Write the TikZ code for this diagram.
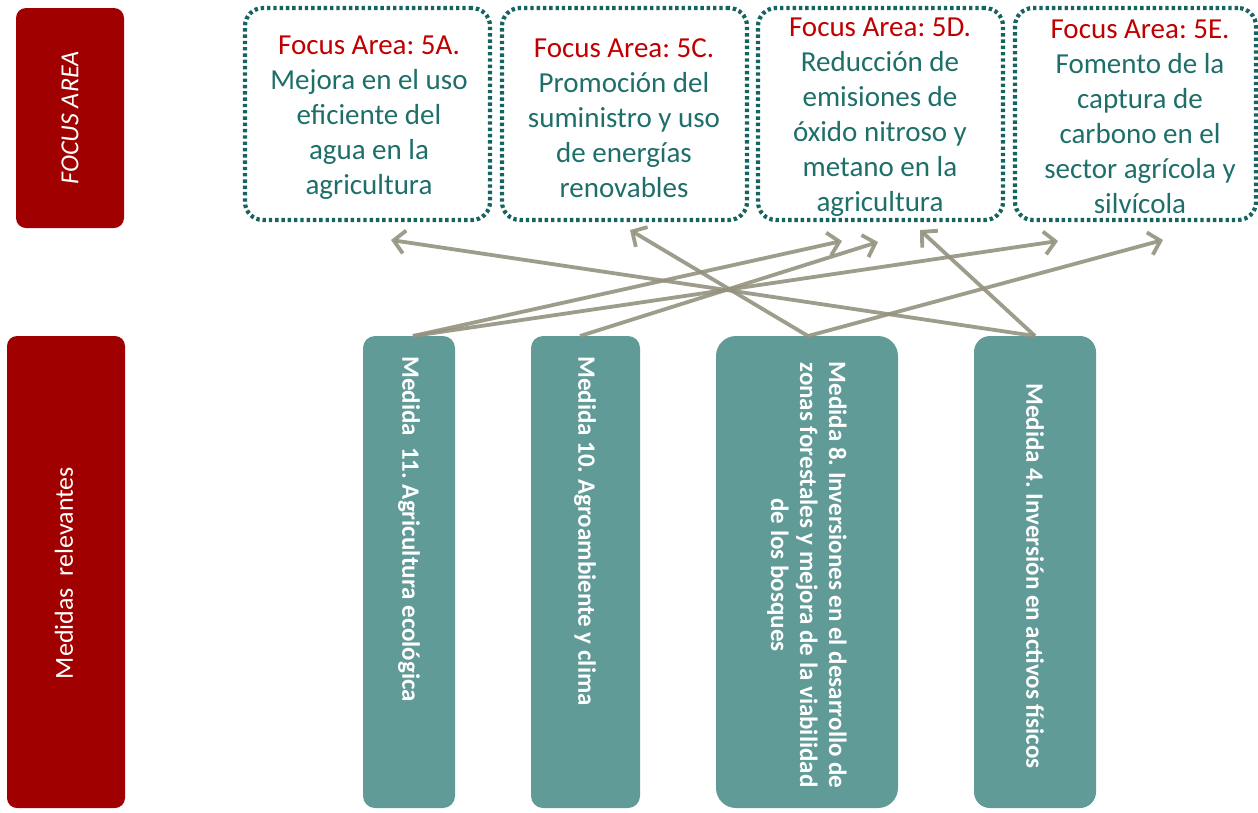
\documentclass[tikz,border=0pt]{standalone}
\usepackage{fontspec}
\setmainfont{Carlito}
\frenchspacing
\usetikzlibrary{arrows.meta}
\definecolor{boxred}{RGB}{160,0,0}
\definecolor{boxteal}{RGB}{97,155,152}
\definecolor{dotteal}{RGB}{22,100,96}
\definecolor{txtteal}{RGB}{30,110,106}
\definecolor{focred}{RGB}{192,0,0}
\definecolor{arrowgray}{RGB}{148,146,126}
\tikzset{
  redbox/.style={fill=boxred, draw=none, rounded corners=10pt, inner sep=0pt},
  medbox/.style={fill=boxteal, draw=none, rounded corners=12pt, inner sep=0pt},
  focbox/.style={draw=dotteal, line width=4.2pt, dash pattern=on 3.4pt off 2.9pt, rounded corners=18pt, inner sep=0pt},
  foctext/.style={text=txtteal, align=center, font=\fontsize{29}{35}\selectfont, inner sep=0pt},
  sidetext/.style={text=white, font=\fontsize{26}{31}\selectfont, rotate=90, inner sep=0pt},
  medtext/.style={text=white, font=\bfseries\fontsize{25}{29}\selectfont, rotate=-90, inner sep=0pt, align=center},
  link/.style={draw=arrowgray, line width=3.8pt, opacity=0.9, -{Straight Barb[length=11pt,width=23pt,line width=3.8pt]}}
}
\begin{document}
\begin{tikzpicture}[x=1pt,y=-1pt]
\useasboundingbox (0,0) rectangle (1258,812);

% left labels
\node[redbox, minimum width=108pt, minimum height=220pt] (lfa) at (70,118) {};
\node[sidetext] (lfat) at (70,118) {\itshape FOCUS AREA};
\node[redbox, minimum width=118pt, minimum height=472pt] (lmr) at (66,572) {};
\node[sidetext] (lmrt) at (64,573) {Medidas \ relevantes};

% focus area boxes
\node[focbox, minimum width=245pt, minimum height=212pt] (f5a) at (367.5,114) {};
\node[focbox, minimum width=245pt, minimum height=212pt] (f5c) at (624.5,114) {};
\node[focbox, minimum width=245pt, minimum height=212pt] (f5d) at (880.5,114) {};
\node[focbox, minimum width=241pt, minimum height=212pt] (f5e) at (1135.5,114) {};

\node[foctext] (t5a) at (369,118) {{\color{focred}Focus Area: 5A.}\\Mejora en el uso\\eficiente del\\agua en la\\agricultura};
\node[foctext] (t5c) at (624,118) {{\color{focred}Focus Area: 5C.}\\Promoción del\\suministro y uso\\de energías\\renovables};
\node[foctext] (t5d) at (880,117) {{\color{focred}Focus Area: 5D.}\\Reducción de\\emisiones de\\óxido nitroso y\\metano en la\\agricultura};
\node[foctext] (t5e) at (1140,117) {{\color{focred}Focus Area: 5E.}\\Fomento de la\\captura de\\carbono en el\\sector agrícola y\\silvícola};

% medida boxes
\node[medbox, minimum width=92pt, minimum height=472pt] (m11) at (409,572) {};
\node[medbox, minimum width=109pt, minimum height=472pt] (m10) at (585.5,572) {};
\node[medbox, minimum width=182pt, minimum height=472pt, rounded corners=20pt] (m8) at (807,572) {};
\node[medbox, minimum width=122pt, minimum height=472pt, rounded corners=16pt] (m4) at (1035,572) {};

\node[medtext, anchor=west] (m11t) at (409,356) {Medida \ 11. Agricultura ecológica};
\node[medtext, anchor=west] (m10t) at (585,356) {Medida 10. Agroambiente y clima};
\node[medtext] (m8t) at (807,575) {Medida 8. Inversiones en el desarrollo de\\zonas forestales y mejora de la viabilidad\\de los bosques};
\node[medtext] (m4t) at (1035,576) {Medida 4. Inversión en activos físicos};

% arrow start and tip points
\coordinate (s11) at (413,336);
\coordinate (s10) at (580,336);
\coordinate (s8) at (808,336);
\coordinate (s4) at (1035,336);
\coordinate (a5a) at (391,240);
\coordinate (a5c) at (630,230);
\coordinate (a5d1) at (842,241);
\coordinate (a5d2) at (878,242);
\coordinate (a5d3) at (920,230);
\coordinate (a5e1) at (1058,241);
\coordinate (a5e2) at (1163,240);

\draw[link] (s11) -- (a5d1);
\draw[link] (s11) -- (a5e1);
\draw[link] (s10) -- (a5d2);
\draw[link] (s8) -- (a5c);
\draw[link] (s8) -- (a5e2);
\draw[link] (s4) -- (a5a);
\draw[link] (s4) -- (a5d3);
\end{tikzpicture}
\end{document}
